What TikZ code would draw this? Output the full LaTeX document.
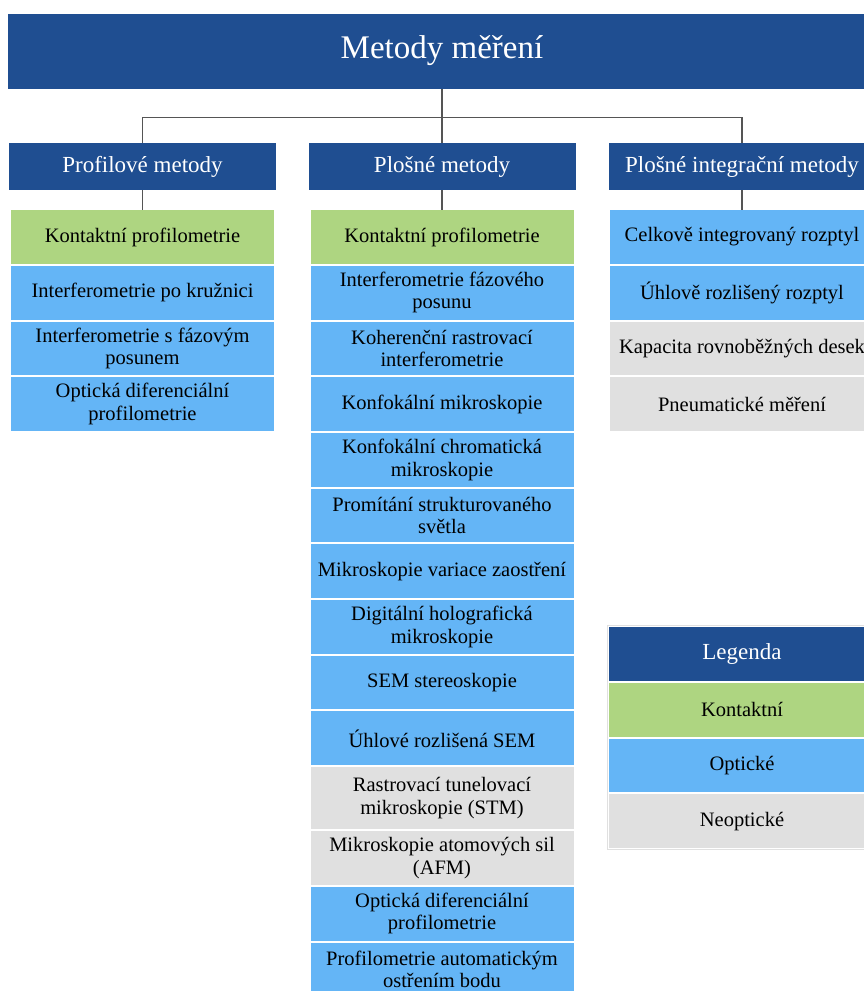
\documentclass[tikz,border=0pt]{standalone}
\usepackage{fontspec}
\setmainfont{Liberation Serif}
\usepackage{tikz}
\usetikzlibrary{positioning,fit}
\definecolor{hlavni}{RGB}{31,78,145}
\definecolor{kontakt}{RGB}{174,213,129}
\definecolor{opticke}{RGB}{100,181,246}
\definecolor{neopt}{RGB}{224,224,224}
\definecolor{cara}{RGB}{85,85,85}

\begin{document}
\begin{tikzpicture}[x=1pt,y=-1pt,node distance=2pt,outer sep=0pt,
  hlava/.style={fill=hlavni,text=white,minimum width=868pt,minimum height=75pt,inner sep=0pt,font=\fontsize{33}{36}\selectfont},
  kat/.style={fill=hlavni,text=white,minimum width=267pt,minimum height=47pt,inner sep=0pt,font=\fontsize{23}{26}\selectfont},
  pol/.style={minimum width=263pt,minimum height=53.7pt,inner sep=0pt,align=center,font=\fontsize{20.5}{22.5}\selectfont},
  kont/.style={pol,fill=kontakt},
  opti/.style={pol,fill=opticke},
  neop/.style={pol,fill=neopt},
  spoj/.style={draw=cara,line width=1.3pt}]
\useasboundingbox (0,0) rectangle (864,991);
\clip (0,0) rectangle (864,991);
% hlavicka
\node[hlava](m_0) at (442,51){Metody měření};
\node[kat](k_p) at (142.5,166.5){Profilové metody};
\node[kat](k_s) at (442,166.5){Plošné metody};
\node[kat](k_i) at (742,166.5){Plošné integrační metody};
% profilove metody
\node[kont](p_1) at (142.5,237){Kontaktní profilometrie};
\node[opti](p_2)[below=of p_1]{Interferometrie po kružnici};
\node[opti](p_3)[below=of p_2]{Interferometrie s fázovým\\posunem};
\node[opti](p_4)[below=of p_3]{Optická diferenciální\\profilometrie};
% plosne metody
\node[kont](s_1) at (442,237){Kontaktní profilometrie};
\node[opti](s_2)[below=of s_1]{Interferometrie fázového\\posunu};
\node[opti](s_3)[below=of s_2]{Koherenční rastrovací\\interferometrie};
\node[opti](s_4)[below=of s_3]{Konfokální mikroskopie};
\node[opti](s_5)[below=of s_4]{Konfokální chromatická\\mikroskopie};
\node[opti](s_6)[below=of s_5]{Promítání strukturovaného\\světla};
\node[opti](s_7)[below=of s_6]{Mikroskopie variace zaostření};
\node[opti](s_8)[below=of s_7]{Digitální holografická\\mikroskopie};
\node[opti](s_9)[below=of s_8]{SEM stereoskopie};
\node[opti](s_10)[below=of s_9]{Úhlové rozlišená SEM};
\node[neop,minimum height=62pt](s_11)[below=of s_10]{Rastrovací tunelovací\\mikroskopie (STM)};
\node[neop](s_12)[below=of s_11]{Mikroskopie atomových sil\\(AFM)};
\node[opti](s_13)[below=of s_12]{Optická diferenciální\\profilometrie};
\node[opti](s_14)[below=of s_13]{Profilometrie automatickým\\ostřením bodu};
% plosne integracni metody
\node[opti,minimum width=264pt](i_1) at (742,237){Celkově integrovaný rozptyl};
\node[opti,minimum width=264pt](i_2)[below=of i_1]{Úhlově rozlišený rozptyl};
\node[neop,minimum width=264pt](i_3)[below=of i_2]{Kapacita rovnoběžných desek};
\node[neop,minimum width=264pt](i_4)[below=of i_3]{Pneumatické měření};
% legenda
\node[kat,minimum width=266pt,minimum height=54pt](l_0) at (742,654){Legenda};
\node[kont,minimum width=266pt](l_1)[below=of l_0]{Kontaktní};
\node[opti,minimum width=266pt](l_2)[below=of l_1]{Optické};
\node[neop,minimum width=266pt](l_3)[below=of l_2]{Neoptické};
\node[draw=neopt,line width=1.2pt,inner sep=1.5pt,fit=(l_0)(l_3)](l_r){};
% spojnice
\path (m_0.south) ++(0,29) coordinate (rozc);
\draw[spoj] (m_0) -- (k_s);
\draw[spoj] (rozc) -| (k_p.north);
\draw[spoj] (rozc) -| (k_i.north);
\draw[spoj] (k_p) -- (p_1);
\draw[spoj] (k_s) -- (s_1);
\draw[spoj] (k_i) -- (i_1);
\end{tikzpicture}
\end{document}
